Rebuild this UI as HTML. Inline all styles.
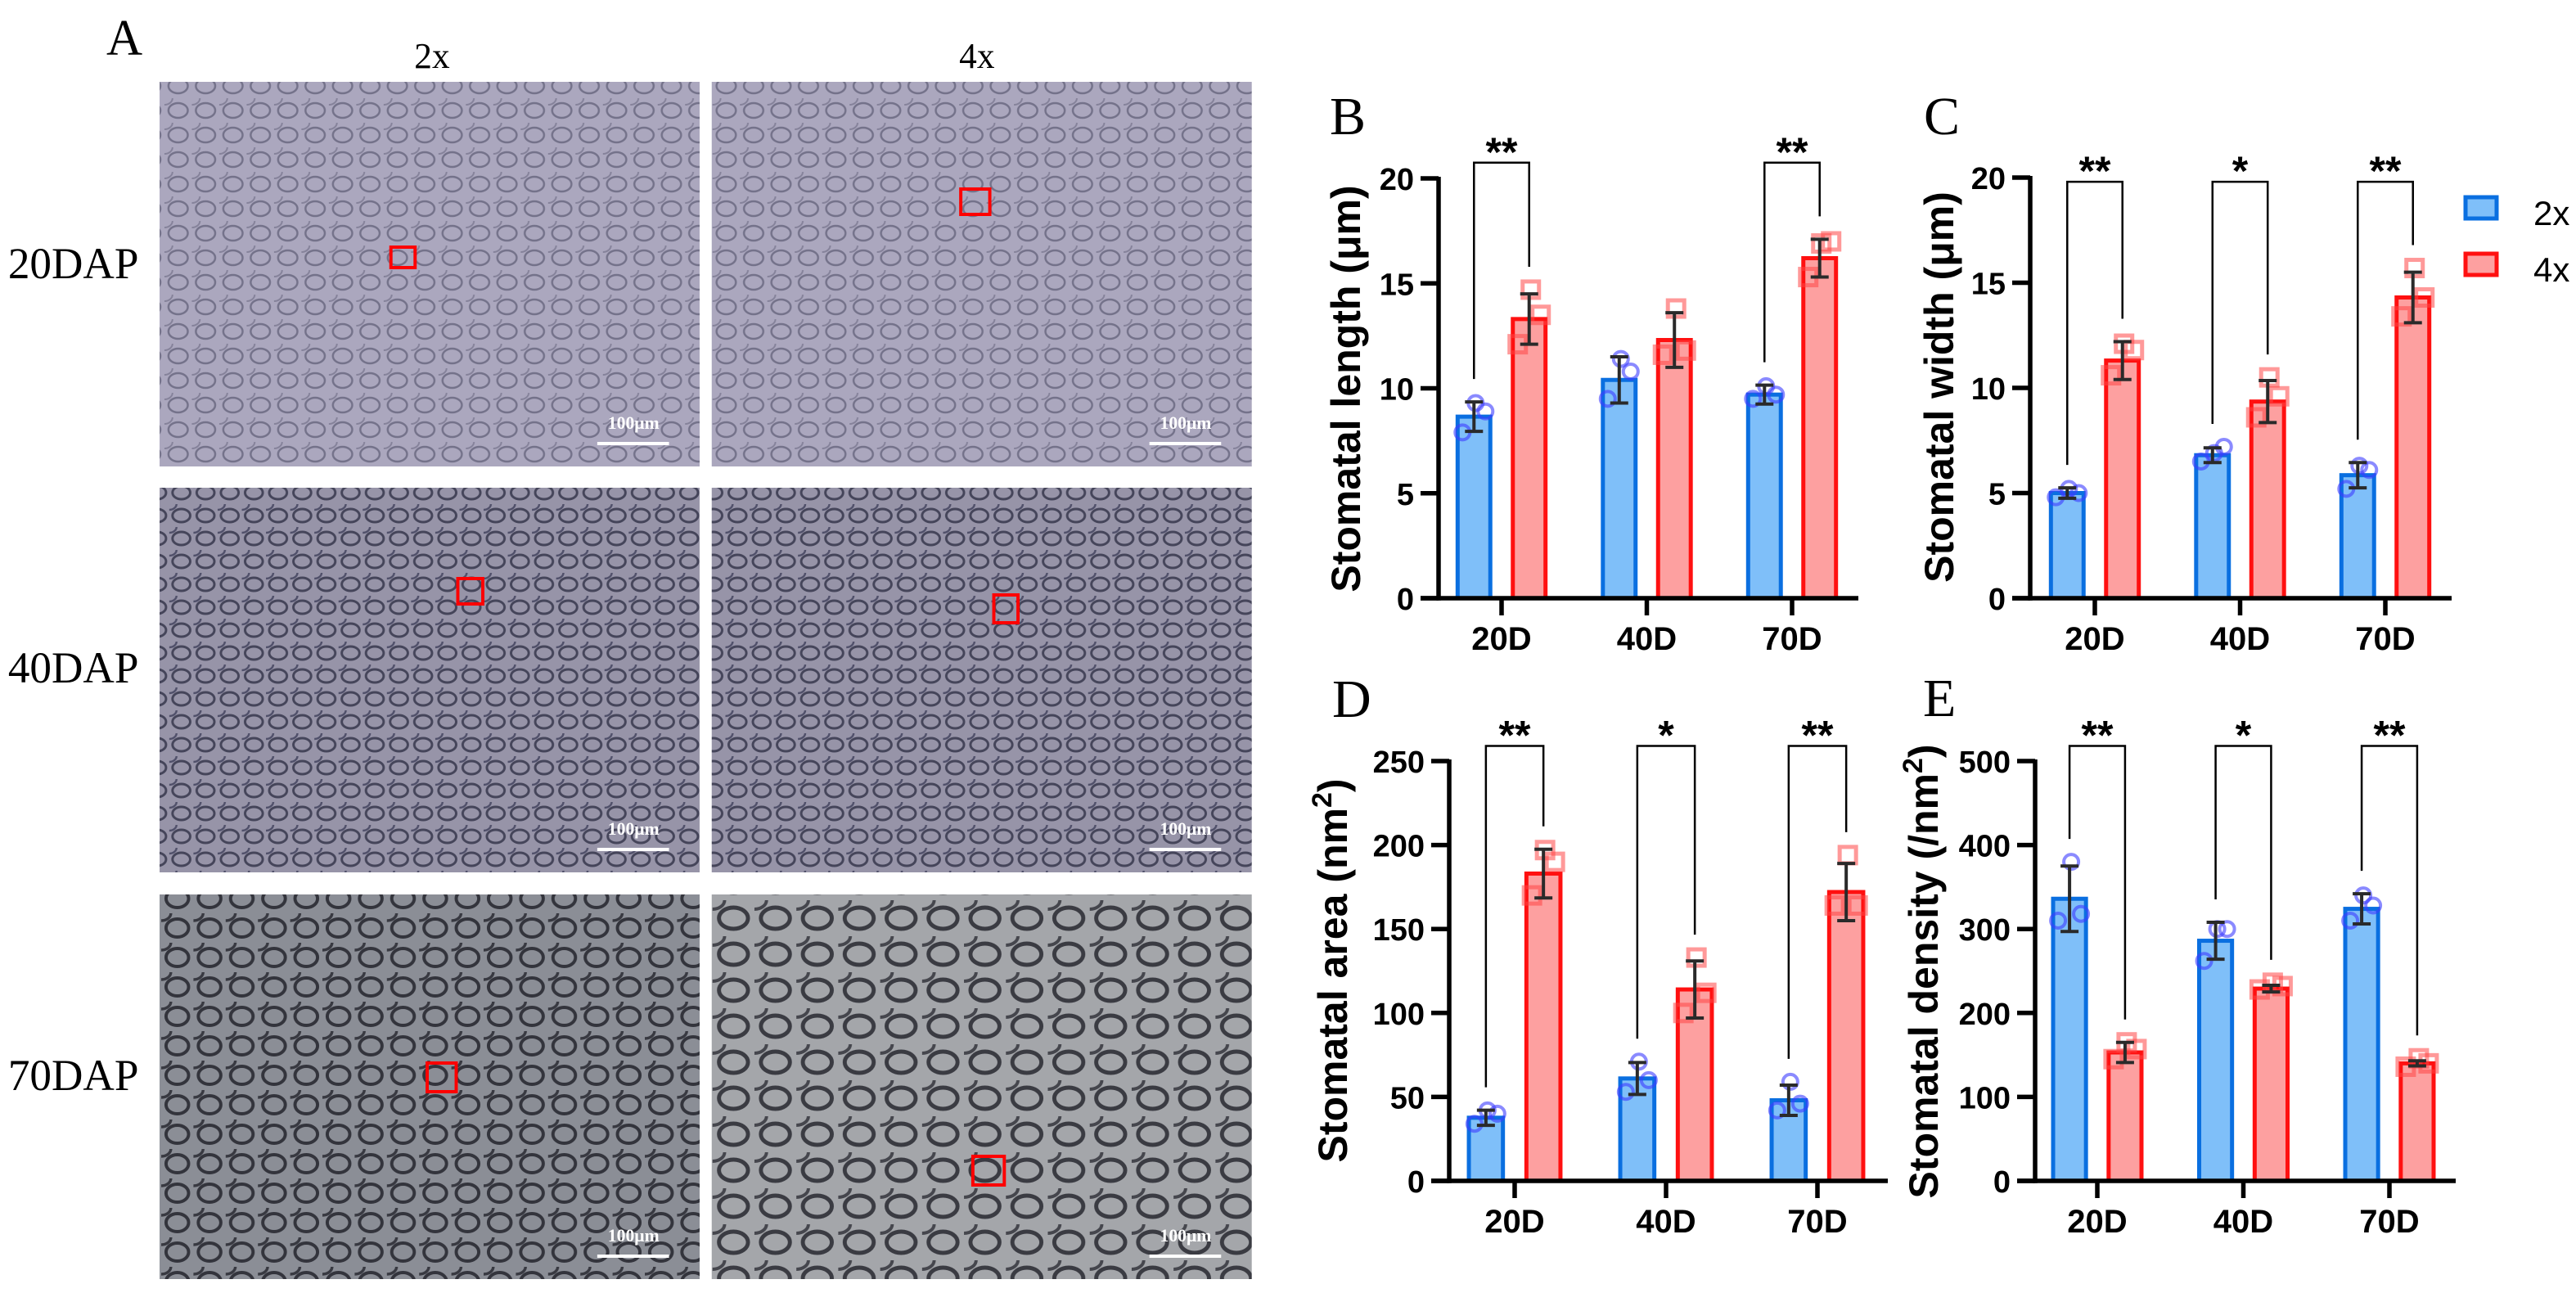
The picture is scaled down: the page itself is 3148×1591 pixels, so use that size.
<!DOCTYPE html>
<html><head><meta charset="utf-8"><style>
html,body{margin:0;padding:0;background:#fff;}
svg{display:block;}
</style></head><body>
<svg id="fig" width="3148" height="1591" viewBox="0 0 3148 1591" xmlns="http://www.w3.org/2000/svg">
<defs>
<pattern id="cellsA" width="34" height="30" patternUnits="userSpaceOnUse"><rect width="34" height="30" fill="#aba7be"/><ellipse cx="17" cy="15" rx="12" ry="9" fill="none" stroke="#74728a" stroke-width="2.5"/><ellipse cx="0" cy="0" rx="10" ry="8" fill="none" stroke="#85829a" stroke-width="2"/></pattern>
<pattern id="cellsB" width="30" height="28" patternUnits="userSpaceOnUse"><rect width="30" height="28" fill="#9794a8"/><ellipse cx="15" cy="14" rx="11" ry="8" fill="none" stroke="#45455a" stroke-width="3"/><ellipse cx="0" cy="0" rx="9" ry="7" fill="none" stroke="#50506a" stroke-width="2.5"/></pattern>
<pattern id="cellsC" width="40" height="36" patternUnits="userSpaceOnUse"><rect width="40" height="36" fill="#8b8e96"/><ellipse cx="20" cy="18" rx="14" ry="11" fill="none" stroke="#33343c" stroke-width="4"/><ellipse cx="0" cy="0" rx="12" ry="9" fill="none" stroke="#383941" stroke-width="3.5"/></pattern>
<pattern id="cellsD" width="52" height="44" patternUnits="userSpaceOnUse"><rect width="52" height="44" fill="#a4a6aa"/><ellipse cx="26" cy="22" rx="18" ry="13" fill="none" stroke="#3a3b42" stroke-width="5"/><ellipse cx="0" cy="0" rx="15" ry="11" fill="none" stroke="#45464d" stroke-width="4"/></pattern>
</defs>
<g id="panelA" transform="scale(0.985 1)"></g>
<g id="charts"></g>
</svg>
<script>
// ---------- chart data ----------
const categories = ["20D", "40D", "70D"];
const seriesNames = ["2x", "4x"];

const lengthMean2x = [8.65, 10.4, 9.7];
const lengthSd2x = [0.7, 1.1, 0.45];
const lengthMean4x = [13.3, 12.3, 16.2];
const lengthSd4x = [1.2, 1.3, 0.9];
const lengthPts2x = [[7.9, 8.9, 9.3], [9.5, 10.8, 11.4], [9.5, 9.7, 10.1]];
const lengthPts4x = [[12.1, 13.5, 14.7], [11.6, 11.8, 13.8], [15.3, 17.0, 16.9]];
const lengthSig = ["**", "", "**"];
const lengthTicks = [0, 5, 10, 15, 20];

const widthMean2x = [5.0, 6.8, 5.85];
const widthSd2x = [0.25, 0.35, 0.6];
const widthMean4x = [11.3, 9.35, 14.3];
const widthSd4x = [0.9, 1.0, 1.2];
const widthPts2x = [[4.8, 5.0, 5.2], [6.5, 7.2, 6.9], [5.2, 6.1, 6.3]];
const widthPts4x = [[10.6, 11.8, 12.1], [8.6, 9.6, 10.5], [13.4, 14.3, 15.7]];
const widthSig = ["**", "*", "**"];
const widthTicks = [0, 5, 10, 15, 20];

const areaMean2x = [37.6, 61, 48];
const areaSd2x = [4.5, 9.5, 9];
const areaMean4x = [183, 114, 172];
const areaSd4x = [14.5, 17, 17];
const areaPts2x = [[34, 40, 42], [53, 60, 71], [42, 46, 59]];
const areaPts4x = [[170, 190, 197], [100, 112, 133], [164, 164, 194]];
const areaSig = ["**", "*", "**"];
const areaTicks = [0, 50, 100, 150, 200, 250];

const densityMean2x = [336, 286, 324];
const densitySd2x = [39, 22, 18];
const densityMean4x = [153, 229, 140];
const densitySd4x = [12, 4, 3];
const densityPts2x = [[310, 318, 380], [262, 300, 300], [310, 328, 340]];
const densityPts4x = [[145, 157, 165], [228, 232, 236], [136, 140, 146]];
const densitySig = ["**", "*", "**"];
const densityTicks = [0, 100, 200, 300, 400, 500];

// ---------- helpers ----------
const NS = "http://www.w3.org/2000/svg";
function mk(tag, attrs, parent) {
  const e = document.createElementNS(NS, tag);
  for (const k in attrs) e.setAttribute(k, attrs[k]);
  parent.appendChild(e);
  return e;
}
const SANS = '"Liberation Sans", Arial, sans-serif';
const SERIF = '"Liberation Serif", "Times New Roman", serif';

// ---------- panel A ----------
const pa = document.getElementById('panelA');
const colX = [198, 883];
const rowY = [100, 596, 1093];
const imgW = 670, imgH = 470;
const fills = [["url(#cellsA)", "url(#cellsA)"], ["url(#cellsB)", "url(#cellsB)"], ["url(#cellsC)", "url(#cellsD)"]];
const boxes = [[[485, 302, 30, 25], [1192, 231, 36, 31]], [[568, 707, 31, 31], [1233, 727, 30, 34]], [[530, 1299, 36, 35], [1207, 1413, 39, 35]]];
const rowLabels = ["20DAP", "40DAP", "70DAP"];
const rowLabelY = [340, 834, 1332];
let t = mk('text', {x: 132, y: 67, 'font-family': SERIF, 'font-size': 62, fill: '#000'}, pa);
t.textContent = 'A';


[["2x", 536], ["4x", 1212]].forEach(([s, x]) => {
  const h = mk('text', {x: x, y: 83, 'text-anchor': 'middle', 'font-family': SERIF, 'font-size': 44, fill: '#000'}, pa);
  h.textContent = s;
  
  
});
for (let r = 0; r < 3; r++) {
  const rl = mk('text', {x: 10, y: rowLabelY[r], 'font-family': SERIF, 'font-size': 54, fill: '#000'}, pa);
  rl.textContent = rowLabels[r];
  
  
  for (let c = 0; c < 2; c++) {
    const g = mk('g', {}, pa);
    
    
    mk('rect', {x: colX[c], y: rowY[r], width: imgW, height: imgH, fill: fills[r][c]}, g);
    const b = boxes[r][c];
    const bx = mk('rect', {x: b[0], y: b[1], width: b[2], height: b[3], fill: 'none', stroke: '#ff0000', 'stroke-width': 4}, g);
    
    
    const lx = colX[c] + 543;
    const ly = rowY[r] + 442;
    mk('line', {x1: lx, x2: lx + 89, y1: ly, y2: ly, stroke: '#fff', 'stroke-width': 4}, g);
    const sl = mk('text', {x: lx + 45, y: ly - 18, 'text-anchor': 'middle', 'font-family': SERIF, 'font-size': 22, 'font-weight': 'bold', fill: '#fff'}, g);
    sl.textContent = '100μm';
    
    
  }
}

// ---------- charts ----------
const charts = document.getElementById('charts');
const BLUE_FILL = '#7fbff9', BLUE_STROKE = '#0a6fe0';
const RED_FILL = '#fda0a0', RED_STROKE = '#ff1010';
const JITTER = [-14, 14, 2];

function drawChart(cfg) {
  const g = mk('g', {}, charts);
  
  
  const yMax = cfg.ticks[cfg.ticks.length - 1];
  const yS = v => cfg.y0 - (v / yMax) * (cfg.y0 - cfg.yTop);
  const xS = i => cfg.cat0 + i * cfg.spacing;
  const off = cfg.spacing * 0.19, bw = cfg.spacing * 0.225;

  const L = mk('text', {x: cfg.letterX, y: cfg.letterY, 'font-family': SERIF, 'font-size': 66, fill: '#000'}, g);
  L.textContent = cfg.letter;
  
  

  const series = [[cfg.m2, cfg.s2, cfg.p2, BLUE_FILL, BLUE_STROKE, -off, '2x'], [cfg.m4, cfg.s4, cfg.p4, RED_FILL, RED_STROKE, off, '4x']];
  series.forEach(([m, sd, pts, fill, stroke, o, nm]) => {
    m.forEach((v, i) => {
      const cx = xS(i) + o;
      const bar = mk('rect', {x: cx - bw / 2, y: yS(v), width: bw, height: yS(0) - yS(v), fill: fill, stroke: stroke, 'stroke-width': 5}, g);
      
      
      pts[i].forEach((p, k) => {
        let pt;
        if (nm === '2x') {
          pt = mk('circle', {cx: cx + JITTER[k], cy: yS(p), r: 9, fill: 'none', stroke: 'rgba(60,60,255,0.6)', 'stroke-width': 4}, g);
        } else {
          pt = mk('rect', {x: cx + JITTER[k] - 10, y: yS(p) - 10, width: 20, height: 20, fill: 'none', stroke: 'rgba(255,70,70,0.55)', 'stroke-width': 5}, g);
        }
        
        
      });
      const eg = mk('g', {stroke: '#2a2a2a', 'stroke-width': 4}, g);
      
      
      const hi = yS(v + sd[i]), lo = yS(v - sd[i]);
      mk('line', {x1: cx, x2: cx, y1: hi, y2: lo}, eg);
      mk('line', {x1: cx - 11, x2: cx + 11, y1: hi, y2: hi}, eg);
      mk('line', {x1: cx - 11, x2: cx + 11, y1: lo, y2: lo}, eg);
    });
  });

  cfg.sig.forEach((s, i) => {
    if (!s) return;
    const x1 = xS(i) - off, x2 = xS(i) + off;
    const top = yS(cfg.bTop);
    const l1 = yS(Math.max(cfg.m2[i] + cfg.s2[i], Math.max(...cfg.p2[i]))) - 28;
    const l2 = yS(Math.max(cfg.m4[i] + cfg.s4[i], Math.max(...cfg.p4[i]))) - 28;
    const bg = mk('g', {}, g);
    
    
    mk('polyline', {points: `${x1},${l1} ${x1},${top} ${x2},${top} ${x2},${l2}`, fill: 'none', stroke: '#000', 'stroke-width': 2.5}, bg);
    const st = mk('text', {x: (x1 + x2) / 2, y: top + 4, 'text-anchor': 'middle', 'font-family': SANS, 'font-weight': 'bold', 'font-size': 50, fill: '#000'}, bg);
    st.textContent = s;
  });

  const ax = mk('g', {stroke: '#000', 'stroke-width': 5.5}, g);
  
  
  mk('line', {x1: cfg.axisX, x2: cfg.axisX, y1: cfg.yTop - 2, y2: cfg.y0 + 2.75}, ax);
  mk('line', {x1: cfg.axisX - 22, x2: cfg.xEnd, y1: cfg.y0, y2: cfg.y0}, ax);
  cfg.ticks.forEach(tv => {
    mk('line', {x1: cfg.axisX - 22, x2: cfg.axisX, y1: yS(tv), y2: yS(tv)}, ax);
    const tl = mk('text', {x: cfg.axisX - 30, y: yS(tv) + 14, 'text-anchor': 'end', 'font-family': SANS, 'font-weight': 'bold', 'font-size': 38, fill: '#000', stroke: 'none'}, g);
    tl.textContent = tv;
    
    
  });
  categories.forEach((c, i) => {
    mk('line', {x1: xS(i), x2: xS(i), y1: cfg.y0, y2: cfg.y0 + 21}, ax);
    const cl = mk('text', {x: xS(i), y: cfg.y0 + 63, 'text-anchor': 'middle', 'font-family': SANS, 'font-weight': 'bold', 'font-size': 40, fill: '#000'}, g);
    cl.textContent = c;
    
    
  });
  const yt = mk('text', {x: 0, y: 0, transform: `translate(${cfg.titleX},${cfg.titleY}) rotate(-90)`, 'text-anchor': 'middle', 'font-family': SANS, 'font-weight': 'bold', 'font-size': 50, fill: '#000'}, g);
  
  
  yt.textContent = cfg.title;
  if (cfg.sup) {
    const sp = mk('tspan', {'baseline-shift': 'super', 'font-size': 34}, yt);
    sp.textContent = '2';
    const sp2 = mk('tspan', {}, yt);
    sp2.textContent = ')';
  }
}

drawChart({name: 'chart-stomatal-length', letter: 'B', letterX: 1625, letterY: 164,
  m2: lengthMean2x, s2: lengthSd2x, m4: lengthMean4x, s4: lengthSd4x, p2: lengthPts2x, p4: lengthPts4x,
  sig: lengthSig, ticks: lengthTicks, bTop: 20.75,
  axisX: 1758, y0: 731, yTop: 218, xEnd: 2271, cat0: 1835, spacing: 177.5,
  title: 'Stomatal length (μm)', titleX: 1662, titleY: 475});
drawChart({name: 'chart-stomatal-width', letter: 'C', letterX: 2351, letterY: 164,
  m2: widthMean2x, s2: widthSd2x, m4: widthMean4x, s4: widthSd4x, p2: widthPts2x, p4: widthPts4x,
  sig: widthSig, ticks: widthTicks, bTop: 19.8,
  axisX: 2481, y0: 731, yTop: 217, xEnd: 2996, cat0: 2560, spacing: 177.5,
  title: 'Stomatal width (μm)', titleX: 2387, titleY: 473});
drawChart({name: 'chart-stomatal-area', letter: 'D', letterX: 1628, letterY: 876,
  m2: areaMean2x, s2: areaSd2x, m4: areaMean4x, s4: areaSd4x, p2: areaPts2x, p4: areaPts4x,
  sig: areaSig, ticks: areaTicks, bTop: 259,
  axisX: 1771, y0: 1443, yTop: 930, xEnd: 2307, cat0: 1851, spacing: 185,
  title: 'Stomatal area (nm', sup: true, titleX: 1646, titleY: 1186});
drawChart({name: 'chart-stomatal-density', letter: 'E', letterX: 2350, letterY: 875,
  m2: densityMean2x, s2: densitySd2x, m4: densityMean4x, s4: densitySd4x, p2: densityPts2x, p4: densityPts4x,
  sig: densitySig, ticks: densityTicks, bTop: 518,
  axisX: 2487, y0: 1443, yTop: 930, xEnd: 3001, cat0: 2563, spacing: 178.5,
  title: 'Stomatal density (/nm', sup: true, titleX: 2368, titleY: 1187});

const lg = mk('g', {}, charts);


[[seriesNames[0], BLUE_FILL, BLUE_STROKE, 241], [seriesNames[1], RED_FILL, RED_STROKE, 310]].forEach(([n, f, s, y]) => {
  const e = mk('g', {}, lg);
  
  
  mk('rect', {x: 3013, y: y, width: 38, height: 26, fill: f, stroke: s, 'stroke-width': 5}, e);
  const tx = mk('text', {x: 3096, y: y + 34, 'font-family': SANS, 'font-size': 42, fill: '#000'}, e);
  tx.textContent = n;
});
</script>
</body></html>
